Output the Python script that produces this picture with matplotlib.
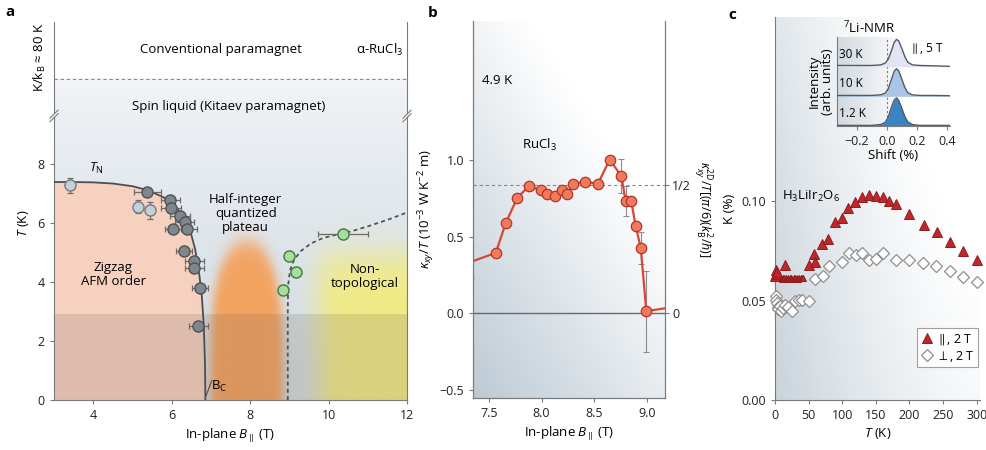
import numpy as np
import matplotlib.pyplot as plt
from matplotlib.colors import to_rgb
from matplotlib.patches import Polygon

plt.rcParams['font.family'] = ['Open Sans', 'DejaVu Sans']
plt.rcParams['mathtext.fontset'] = 'custom'
plt.rcParams['mathtext.rm'] = 'Open Sans'
plt.rcParams['mathtext.it'] = 'Open Sans:italic'
plt.rcParams['mathtext.bf'] = 'Open Sans:bold'
plt.rcParams['font.size'] = 9
plt.rcParams['axes.edgecolor'] = '#7a7a7a'
plt.rcParams['axes.linewidth'] = 0.8
plt.rcParams['xtick.color'] = '#7a7a7a'
plt.rcParams['ytick.color'] = '#7a7a7a'
plt.rcParams['xtick.labelcolor'] = '#222222'
plt.rcParams['ytick.labelcolor'] = '#222222'
plt.rcParams['xtick.major.size'] = 3
plt.rcParams['ytick.major.size'] = 3

# ---- panel a: phase diagram of alpha-RuCl3 ----
# T_N boundary (zigzag order)
B_tn = [3.0, 3.5, 4.0, 4.5, 5.0, 5.4, 5.8, 6.1, 6.3, 6.45, 6.6, 6.7, 6.77, 6.82, 6.85, 6.86]
T_tn = [7.38, 7.38, 7.37, 7.33, 7.24, 7.10, 6.86, 6.55, 6.22, 5.85, 5.10, 4.30, 3.50, 2.50, 1.20, 0.0]
# crossover into the non-topological phase
B_nt = [8.96, 8.96, 8.97, 9.02, 9.12, 9.3, 9.55, 9.85, 10.2, 10.6, 11.0, 11.5, 12.0]
T_nt = [0.0, 3.0, 3.9, 4.4, 4.75, 5.05, 5.3, 5.48, 5.6, 5.72, 5.88, 6.1, 6.35]

B_light = [3.40, 5.15, 5.44]
T_light = [7.27, 6.55, 6.42]
Terr_light = [0.25, 0.22, 0.3]

B_dark = [5.38, 5.97, 5.98, 6.22, 6.33, 6.03, 6.39, 6.32, 6.58, 6.58, 6.72, 6.68]
T_dark = [7.04, 6.76, 6.50, 6.24, 6.04, 5.78, 5.78, 5.05, 4.72, 4.48, 3.80, 2.49]
Berr_dark = [0.35, 0.25, 0.25, 0.25, 0.25, 0.2, 0.25, 0.2, 0.25, 0.25, 0.2, 0.25]

B_green = [9.0, 9.17, 8.85, 10.37]
T_green = [4.89, 4.35, 3.72, 5.62]
Berr_green = [0.0, 0.0, 0.0, 0.64]

T_kitaev = 10.88      # K/k_B ~ 80 K crossover (upper scale)
T_break = 9.56
T_low_band = 2.9

# ---- panel b: thermal Hall conductivity at 4.9 K ----
B_kxy = [7.33, 7.566, 7.661, 7.77, 7.88, 7.99, 8.056, 8.125, 8.19, 8.245, 8.30,
         8.41, 8.535, 8.646, 8.757, 8.797, 8.85, 8.892, 8.94, 8.993, 9.25]
kxy = [0.335, 0.394, 0.59, 0.754, 0.83, 0.804, 0.778, 0.769, 0.804, 0.782, 0.847,
       0.858, 0.847, 1.004, 0.895, 0.732, 0.732, 0.569, 0.427, 0.013, 0.04]
kxy_err = [0.105, 0, 0, 0, 0, 0, 0, 0, 0, 0, 0,
           0, 0, 0, 0.11, 0.10, 0, 0, 0.105, 0.265, 0]
half_quantum = 0.837

# ---- panel c: Knight shift of H3LiIr2O6 ----
T_par = [15, 50, 58.5, 59.5, 69.4, 79.4, 89.3, 99.2, 109, 119, 129, 140, 150,
         160, 170, 180, 200, 221, 241, 261, 280, 301]
K_par = [0.0678, 0.0678, 0.0733, 0.0695, 0.0783, 0.0807, 0.0896, 0.0913, 0.0963,
         0.0997, 0.1018, 0.1030, 0.1025, 0.1022, 0.1002, 0.0985, 0.0937, 0.0882,
         0.0842, 0.0795, 0.0750, 0.0703]
T_par_low = [0.3, 1.2, 2.2, 3.0]
K_par_low = [0.0625, 0.0655, 0.0635, 0.0645]
T_par_band = [4, 6, 8, 10, 12, 14, 16, 18, 20, 22, 24, 26, 28, 30, 32, 34, 36, 38, 40, 42]
K_par_band = [0.0612, 0.0611, 0.0612, 0.0610, 0.0611, 0.0612, 0.0611, 0.0610, 0.0611,
              0.0612, 0.0611, 0.0610, 0.0611, 0.0612, 0.0611, 0.0610, 0.0611, 0.0612,
              0.0611, 0.0611]

T_perp = [1, 2, 3, 4, 5, 7, 9, 12, 15, 20, 25, 30, 35, 40, 50,
          60, 71, 81, 99, 110, 120, 130, 140, 150, 160, 180, 200, 220, 240, 260, 280, 300]
K_perp = [0.0525, 0.0505, 0.0490, 0.0465, 0.0455, 0.0470, 0.0448, 0.0462, 0.0478,
          0.0468, 0.0448, 0.0497, 0.0505, 0.0502, 0.0497,
          0.0607, 0.0625, 0.0672, 0.0692, 0.0741, 0.0727, 0.0737, 0.0704, 0.0710,
          0.0739, 0.0706, 0.0706, 0.0690, 0.0676, 0.0649, 0.0618, 0.0591]

# 7Li-NMR spectra (inset)
shift = [-0.33, -0.10, -0.04, -0.01, 0.01, 0.03, 0.05, 0.065, 0.08, 0.10, 0.12,
         0.14, 0.17, 0.22, 0.30, 0.42]
spec_labels = ['30 K', '10 K', '1.2 K']
spec_30K = [0.04, 0.04, 0.06, 0.12, 0.25, 0.52, 0.82, 0.92, 0.86, 0.62, 0.34, 0.15, 0.06, 0.04, 0.03, 0.01]
spec_10K = [0.03, 0.03, 0.05, 0.11, 0.25, 0.55, 0.85, 0.93, 0.85, 0.58, 0.30, 0.12, 0.05, 0.03, 0.03, 0.02]
spec_1K = [0.02, 0.02, 0.05, 0.12, 0.30, 0.62, 0.88, 0.95, 0.86, 0.60, 0.32, 0.14, 0.05, 0.02, 0.02, 0.02]
spec_fills = ['#e2e4f4', '#a9c5e6', '#3a84c4']


def gradient(ax, extent, c0, c1, weight, n=200, zorder=0):
    u, v = np.meshgrid(np.linspace(0, 1, n), np.linspace(0, 1, n))
    t = np.clip(weight(u, v), 0, 1)[..., None]
    img = (1 - t) * np.array(to_rgb(c0)) + t * np.array(to_rgb(c1))
    ax.imshow(img, extent=extent, origin='lower', aspect='auto',
              zorder=zorder, interpolation='bilinear')


def soft_region(ax, extent, color, alpha_fn, n=300, zorder=1):
    x = np.linspace(extent[0], extent[1], n)
    y = np.linspace(extent[2], extent[3], n)
    X, Y = np.meshgrid(x, y)
    rgba = np.zeros((n, n, 4))
    rgba[..., :3] = to_rgb(color)
    rgba[..., 3] = alpha_fn(X, Y)
    ax.imshow(rgba, extent=extent, origin='lower', aspect='auto',
              zorder=zorder, interpolation='bilinear')


def sig(z):
    return 1 / (1 + np.exp(-z))


W, H = 987, 450
fig = plt.figure(figsize=(W / 100, H / 100), dpi=100)


def px_axes(l, r, t, b):
    return fig.add_axes([l / W, 1 - b / H, (r - l) / W, (b - t) / H])


# ================= panel a =================
ax = px_axes(54, 407, 22, 400)
ax.set_facecolor('white')
gradient(ax, (3, 12, 0, T_kitaev), '#f4f6f8', '#d3dce4',
         lambda u, v: (1 - v) ** 0.7 * 1.05, zorder=0)
ax.fill(np.r_[B_tn, 3.0], np.r_[T_tn, 0.0], color='#f6d1c0', lw=0, zorder=1)

# half-integer plateau (orange) and non-topological region (yellow)
def plateau_alpha(B, T):
    r = np.sqrt(((B - 7.92) / 0.92) ** 2 + (np.clip(T, 0, None) / 5.35) ** 4)
    return 0.95 * sig((1 - r) / 0.07)


def nontop_alpha(B, T):
    return 0.9 * sig((B - 9.75) / 0.18) * sig((4.9 - T) / 0.35)


soft_region(ax, (6.6, 9.3, 0, 6.5), '#f59f58', plateau_alpha, zorder=1.5)
soft_region(ax, (8.9, 12, 0, 7.5), '#f4ec7c', nontop_alpha, zorder=1.5)
ax.axhspan(0, T_low_band, color='#6b5a50', alpha=0.17, lw=0, zorder=2)

ax.plot(B_tn, T_tn, color='#4b4f53', lw=1.3, zorder=3)
ax.plot(B_nt, T_nt, color='#4b5560', lw=1.3, ls=(0, (2.2, 1.8)), zorder=3)
ax.axhline(T_kitaev, color='#8a8a8a', lw=0.8, ls=(0, (3, 2.5)), zorder=3)

eb = dict(fmt='o', ms=8, capsize=2.5, elinewidth=0.9, capthick=0.9, zorder=4)
ax.errorbar(B_light, T_light, yerr=Terr_light, mfc='#c4d0d6', mec='#6f7b82',
            ecolor='#6f6a66', **eb)
ax.errorbar(B_dark, T_dark, xerr=Berr_dark, mfc='#7f878d', mec='#4d5357',
            ecolor='#6f6a66', **eb)
ax.errorbar(B_green, T_green, xerr=Berr_green, mfc='#a8dd9f', mec='#3d7a3c',
            ecolor='#6f6a66', **eb)

ax.text(4.09, 7.85, '$T_{\\mathrm{N}}$', fontsize=9.5, ha='center', va='center', zorder=5)
ax.plot([6.88, 7.02], [0.15, 0.65], color='#4b4f53', lw=0.8, zorder=5)
ax.text(7.22, 0.45, 'B$_{\\mathrm{C}}$', fontsize=9.5, ha='center', va='center', zorder=5)
ax.text(4.51, 4.24, 'Zigzag\nAFM order', ha='center', va='center', fontsize=9.5,
        linespacing=1.1, zorder=5)
ax.text(7.89, 6.33, 'Half-integer\nquantized\nplateau', ha='center', va='center',
        fontsize=9.5, linespacing=1.1, zorder=5)
ax.text(10.92, 4.18, 'Non-\ntopological', ha='center', va='center', fontsize=9.5,
        linespacing=1.1, zorder=5)
ax.text(7.26, 11.86, 'Conventional paramagnet', ha='center', va='center', fontsize=9.5)
ax.text(11.3, 11.86, 'α-RuCl$_3$', ha='center', va='center', fontsize=9.5)
ax.text(7.46, 9.95, 'Spin liquid (Kitaev paramagnet)', ha='center', va='center', fontsize=9.5)

ax.set_xlim(3, 12)
ax.set_ylim(0, 12.8)
ax.set_xticks([4, 6, 8, 10, 12])
ax.set_yticks([0, 2, 4, 6, 8])
ax.spines['top'].set_visible(False)
ax.tick_params(direction='out', labelsize=9)
ax.set_xlabel('In-plane $B_{\\parallel}$ (T)', fontsize=9.5, labelpad=3)
ax.text(-0.085, 6.0, '$T$ (K)', transform=ax.get_yaxis_transform(), rotation=90,
        ha='center', va='center', fontsize=9.5)
ax.text(-0.04, 11.6, 'K/k$_{\\mathrm{B}}$ ≈ 80 K', transform=ax.get_yaxis_transform(),
        rotation=90, ha='center', va='center', fontsize=9.5)

# axis break marks on both spines
ax_w, ax_h = 353, 378
yb = T_break / 12.8
for xb in (0.0, 1.0):
    dx, dy, gap = 4 / ax_w, 4 / ax_h, 3.5 / ax_h
    pts = [(xb - dx, yb - dy), (xb + dx, yb + dy), (xb + dx, yb + dy + gap), (xb - dx, yb - dy + gap)]
    ax.add_patch(Polygon(pts, closed=True, transform=ax.transAxes, fc='white', ec='none',
                         clip_on=False, zorder=6))
    for off in (0, gap):
        ax.plot([xb - dx, xb + dx], [yb - dy + off, yb + dy + off], transform=ax.transAxes,
                color='#7a7a7a', lw=0.8, clip_on=False, zorder=7)

# ================= panel b =================
bx = px_axes(473, 665, 21, 398)
gradient(bx, (7.35, 9.17, -0.555, 1.91), '#ffffff', '#b8c6d1',
         lambda u, v: 0.6 * (1 - u) + 0.75 * (1 - v) - 0.42)
bx.axhline(0, color='#6a6a6a', lw=1.0, zorder=2)
bx.axhline(half_quantum, color='#8a8a8a', lw=0.8, ls=(0, (3, 2.5)), zorder=2)
bx.errorbar(B_kxy, kxy, yerr=[e if e else np.nan for e in kxy_err], fmt='none',
            ecolor='#8c8c8c', elinewidth=0.8, capsize=2.5, capthick=0.8, zorder=3)
bx.plot(B_kxy, kxy, color='#d8463a', lw=1.6, zorder=4)
bx.plot(B_kxy[1:-1], kxy[1:-1], 'o', ms=7.5, mfc='#f07b5c', mec='#b53228', mew=0.9, zorder=5)
bx.text(7.58, 1.52, '4.9 K', ha='center', va='center', fontsize=9.5)
bx.text(7.98, 1.10, 'RuCl$_3$', ha='center', va='center', fontsize=9.5)
bx.set_xlim(7.35, 9.17)
bx.set_ylim(-0.555, 1.91)
bx.set_xticks([7.5, 8.0, 8.5, 9.0])
bx.set_yticks([-0.5, 0.0, 0.5, 1.0])
bx.set_xticklabels(['7.5', '8.0', '8.5', '9.0'])
bx.set_yticklabels(['−0.5', '0.0', '0.5', '1.0'])
bx.spines['top'].set_visible(False)
bx.tick_params(direction='out', labelsize=9)
bx.set_xlabel('In-plane $B_{\\parallel}$ (T)', fontsize=9.5, labelpad=3)
bx.set_ylabel('$\\kappa_{xy}/T$ (10$^{-3}$ W K$^{-2}$ m)', fontsize=9.5, labelpad=2)
br = bx.twinx()
br.set_ylim(bx.get_ylim())
br.set_yticks([0, half_quantum])
br.set_yticklabels(['0', '1/2'])
br.spines['top'].set_visible(False)
br.tick_params(direction='out', labelsize=9, pad=2)
br.set_ylabel('$\\kappa_{xy}^{\\mathrm{2D}}/T[(\\pi/6)(k_{\\mathrm{B}}^{2}/\\hbar)]$',
              rotation=270, fontsize=9, labelpad=17)

# ================= panel c =================
cx = px_axes(775, 980, 17, 400)
gradient(cx, (0, 305, 0, 0.1925), '#ffffff', '#c9d3db',
         lambda u, v: 0.85 * (1 - u) ** 1.4 + 0.45 * (1 - v) - 0.3)
tri = dict(marker='^', ls='none', mfc='#c0272d', mec='#8e1c20', mew=0.7,
           clip_on=False, zorder=4)
dia = dict(marker='D', ls='none', mfc='white', mec='#8f8f8f', mew=0.9,
           clip_on=False, zorder=3)
cx.plot(T_perp, K_perp, ms=6, label='$\\perp$, 2 T', **dia)
cx.plot(T_par_band, K_par_band, ms=4.5, **tri)
cx.plot(T_par_low, K_par_low, ms=7, **tri)
cx.plot(T_par, K_par, ms=7.5, label='$\\parallel$, 2 T', **tri)
cx.text(10, 0.1025, 'H$_3$LiIr$_2$O$_6$', ha='left', va='center', fontsize=9.5)
cx.set_xlim(0, 305)
cx.set_ylim(0, 0.1925)
cx.set_xticks([0, 50, 100, 150, 200, 250, 300])
cx.set_yticks([0.0, 0.05, 0.10])
cx.set_yticklabels(['0.00', '0.05', '0.10'])
cx.spines['top'].set_visible(False)
cx.spines['right'].set_visible(False)
cx.tick_params(direction='out', labelsize=9)
cx.set_xlabel('$T$ (K)', fontsize=9.5, labelpad=3)
cx.set_ylabel('K (%)', fontsize=9.5, labelpad=4)
h, l = cx.get_legend_handles_labels()
leg = cx.legend(h[::-1], l[::-1], loc='lower right', bbox_to_anchor=(0.99, 0.085),
                fontsize=9, frameon=True, fancybox=False, edgecolor='#8a8a8a',
                handletextpad=0.2, handlelength=1.0, borderpad=0.3, labelspacing=0.15,
                borderaxespad=0)
leg.get_frame().set_linewidth(0.8)

# inset: 7Li-NMR spectra
ix = px_axes(837, 950, 37, 126)
gradient(ix, (-0.33, 0.42, 0, 3), '#ffffff', '#ccd5dc',
         lambda u, v: 0.9 - 1.5 * u)
for i, (spec, lab, fc) in enumerate(zip([spec_30K, spec_10K, spec_1K], spec_labels, spec_fills)):
    off = 2 - i
    y = np.array(spec) + off
    ix.fill_between(shift, off, y, color=fc, lw=0, zorder=2)
    ix.plot(shift, y, color='#555a60', lw=1.0, zorder=3)
    ix.text(-0.315, off + 0.42, lab, ha='left', va='center', fontsize=8.5, zorder=4)
ix.axvline(0, color='#7a7a7a', lw=0.8, ls=(0, (2, 2)), zorder=1.5)
ix.text(0.265, 2.62, '$\\parallel$, 5 T', ha='center', va='center', fontsize=8.5)
ix.set_xlim(-0.33, 0.42)
ix.set_ylim(0, 3)
ix.set_xticks([-0.2, 0.0, 0.2, 0.4])
ix.set_xticklabels(['−0.2', '0.0', '0.2', '0.4'])
ix.set_yticks([])
ix.spines['top'].set_visible(False)
ix.spines['right'].set_visible(False)
ix.tick_params(direction='out', labelsize=9)
ix.set_xlabel('Shift (%)', fontsize=9.5, labelpad=1)
ix.set_ylabel('Intensity\n(arb. units)', fontsize=9.5, labelpad=2, linespacing=1.0)
fig.text(843 / W, 1 - 28 / H, '$^{7}$Li-NMR', ha='left', va='center', fontsize=9.5)

# panel letters
for x, y, s in [(10, 12, 'a'), (433, 13, 'b'), (732, 15, 'c')]:
    fig.text(x / W, 1 - y / H, s, fontsize=11, weight='bold', ha='center', va='center')

fig.savefig('out.png', dpi=100)
